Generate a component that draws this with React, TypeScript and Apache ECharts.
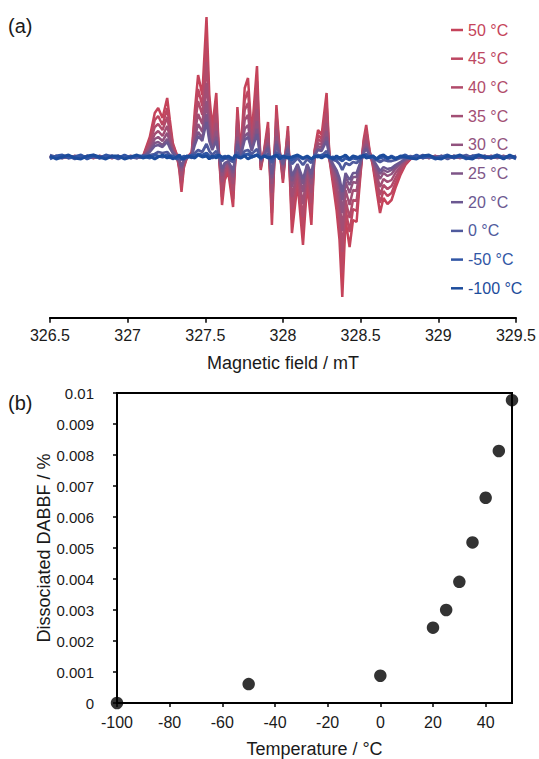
import React, { useEffect, useRef } from "react";
import * as echarts from "echarts";

// ---------- Panel (a): EPR spectra ----------
const FIELD_LEFT = [326.5, 326.54, 326.58, 326.62, 326.66, 326.7, 326.74, 326.78, 326.82, 326.86, 326.9, 326.94, 326.98, 327.02, 327.06];
const FIELD_PEAKS = [
  327.098, 327.143, 327.175, 327.197, 327.225, 327.255, 327.272, 327.291, 327.317, 327.333,
  327.347, 327.362, 327.381, 327.413, 327.433, 327.454, 327.481, 327.508, 327.526, 327.545,
  327.571, 327.587, 327.608, 327.625, 327.648, 327.679, 327.693, 327.707, 327.728, 327.754,
  327.775, 327.799, 327.833, 327.857, 327.879, 327.904, 327.929, 327.958, 327.979, 328.0,
  328.032, 328.058, 328.094, 328.129, 328.156, 328.183, 328.204, 328.226, 328.249, 328.281,
  328.3, 328.323, 328.345, 328.364, 328.382, 328.403, 328.429, 328.451, 328.474, 328.499,
  328.519, 328.536, 328.557, 328.578, 328.602, 328.625, 328.647, 328.673, 328.699, 328.724,
  328.756, 328.788, 328.821,
];
const FIELD_RIGHT = [328.86, 328.9, 328.94, 328.98, 329.02, 329.06, 329.1, 329.14, 329.18, 329.22, 329.26, 329.3, 329.34, 329.38, 329.42, 329.46, 329.5];
const FIELD_MT = [...FIELD_LEFT, ...FIELD_PEAKS, ...FIELD_RIGHT];

const SPECTRA_LABELS = ["50 °C", "45 °C", "40 °C", "35 °C", "30 °C", "25 °C", "20 °C", "0 °C", "-50 °C", "-100 °C"];

const I_50 = [
  1, -1, 1, 0, -1, 1, 0, -1, 1, 0, -1, 1, -1, 0, 1,
  0, 20, 44, 49, 39, 59, 37, 14, 2, -13,
  -35, -11, -1, 5, 47, 82, 62, 140, 62, 29,
  64, 7, -48, -23, -15, -50, -3, 50, 4, 69,
  79, 22, 91, -13, 7, 35, -68, 52, 7, -26,
  31, -76, -26, -88, -26, -68, 7, 27, 22, 64,
  -3, -28, -53, -83, -140, -63, -90, -63, -65, -18,
  17, 32, 7, -8, -33, -56, -41, -47, -43, -31,
  -18, -8, -2,
  0, 1, -1, 1, 0, -1, 1, 0, -1, 1, 0, -1, 1, 0, -1, 1, 0,
];
const I_45 = [
  0, 1, -1, 1, 0, -1, 1, -1, 0, 1, -1, 0, 1, -1, 0,
  0, 17, 37, 41, 32, 49, 31, 12, 2, -11,
  -29, -9, -1, 4, 39, 68, 51, 116, 51, 24,
  53, 6, -40, -19, -12, -42, -2, 42, 3, 57,
  66, 18, 76, -11, 6, 29, -56, 43, 6, -22,
  26, -63, -22, -73, -22, -56, 6, 22, 18, 53,
  -2, -23, -44, -69, -116, -52, -75, -52, -54, -15,
  14, 27, 6, -7, -27, -46, -34, -39, -36, -26,
  -15, -7, -2,
  1, -1, 0, 1, -1, 1, 0, -1, 1, -1, 0, 1, -1, 0, 1, -1, 0,
];
const I_40 = [
  -1, 0, 1, -1, 1, 0, -1, 1, 0, -1, 1, -1, 0, 1, 0,
  0, 14, 30, 33, 27, 40, 25, 10, 1, -9,
  -24, -7, -1, 3, 32, 56, 42, 95, 42, 20,
  44, 5, -33, -16, -10, -34, -2, 34, 3, 47,
  54, 15, 62, -9, 5, 24, -46, 35, 5, -18,
  21, -52, -18, -60, -18, -46, 5, 18, 15, 44,
  -2, -19, -36, -56, -95, -43, -61, -43, -44, -12,
  12, 22, 5, -5, -22, -38, -28, -32, -29, -21,
  -12, -5, -1,
  -1, 0, 1, -1, 0, 1, -1, 1, 0, -1, 1, 0, -1, 1, -1, 0, 1,
];
const I_35 = [
  1, 0, -1, 0, 1, -1, 0, 1, -1, 1, 0, -1, 1, 0, -1,
  0, 11, 23, 26, 21, 31, 20, 7, 1, -7,
  -19, -6, -1, 3, 25, 43, 33, 74, 33, 15,
  34, 4, -25, -12, -8, -27, -2, 27, 2, 37,
  42, 12, 48, -7, 4, 19, -36, 28, 4, -14,
  16, -40, -14, -47, -14, -36, 4, 14, 12, 34,
  -2, -15, -28, -44, -74, -33, -48, -33, -34, -10,
  9, 17, 4, -4, -17, -30, -22, -25, -23, -16,
  -10, -4, -1,
  0, -1, 1, 0, 1, -1, 0, 1, -1, 0, 1, -1, 1, 0, -1, 1, -1,
];
const I_30 = [
  0, -1, 1, 1, -1, 0, 1, -1, 1, 0, -1, 1, 0, -1, 1,
  0, 8, 18, 20, 16, 24, 15, 6, 1, -5,
  -14, -4, 0, 2, 19, 33, 25, 56, 25, 12,
  26, 3, -19, -9, -6, -20, -1, 20, 2, 28,
  32, 9, 36, -5, 3, 14, -27, 21, 3, -10,
  12, -30, -10, -35, -10, -27, 3, 11, 9, 26,
  -1, -11, -21, -33, -56, -25, -36, -25, -26, -7,
  7, 13, 3, -3, -13, -22, -16, -19, -17, -12,
  -7, -3, -1,
  1, 0, -1, 1, -1, 0, 1, -1, 0, 1, -1, 1, 0, -1, 1, 0, -1,
];
const I_25 = [
  -1, 1, 0, -1, 1, 1, -1, 0, 1, -1, 0, 1, -1, 1, 0,
  0, 6, 14, 15, 12, 18, 11, 4, 1, -4,
  -11, -3, 0, 2, 15, 25, 19, 43, 19, 9,
  20, 2, -15, -7, -5, -16, -1, 16, 1, 21,
  24, 7, 28, -4, 2, 11, -21, 16, 2, -8,
  10, -24, -8, -27, -8, -21, 2, 8, 7, 20,
  -1, -9, -16, -26, -43, -20, -28, -20, -20, -6,
  5, 10, 2, -2, -10, -17, -13, -15, -13, -10,
  -6, -2, -1,
  -1, 1, 0, -1, 1, 0, -1, 1, 1, -1, 0, 1, -1, 0, 1, -1, 1,
];
const I_20 = [
  1, -1, 0, 1, 0, -1, 1, 0, -1, 1, 1, -1, 0, 1, -1,
  0, 5, 11, 12, 10, 15, 9, 4, 1, -3,
  -9, -3, 0, 1, 12, 21, 16, 35, 16, 7,
  16, 2, -12, -6, -4, -13, -1, 13, 1, 17,
  20, 6, 23, -3, 2, 9, -17, 13, 2, -7,
  8, -19, -7, -22, -7, -17, 2, 7, 6, 16,
  -1, -7, -13, -21, -35, -16, -23, -16, -16, -5,
  4, 8, 2, -2, -8, -14, -10, -12, -11, -8,
  -5, -2, -1,
  0, 1, -1, 0, 1, -1, 1, 0, -1, 1, 0, -1, 1, -1, 0, 1, 0,
];
const I_0 = [
  2, 0, -1, 1, -2, 1, 0, 2, -1, 0, 1, -2, 1, 0, -1,
  1, 2, 3, 5, 4, 5, 2, 1, -1, -1,
  -3, 0, 1, -1, 4, 7, 5, 13, 6, 2,
  6, 1, -4, -1, -2, -5, 1, 5, -1, 6,
  7, 3, 8, -2, 1, 3, -6, 5, 0, -2,
  3, -7, -1, -8, -2, -6, 2, 2, 1, 6,
  0, -3, -4, -7, -13, -6, -8, -5, -6, -2,
  2, 3, 0, -1, -3, -5, -3, -4, -4, -3,
  -1, -1, 1,
  -1, 2, 0, -1, 1, -2, 1, 0, 2, -1, 0, 1, -1, 2, 0, -1, 1,
];
const I_M50 = [
  -2, 1, 2, -1, 0, 2, -2, 1, -1, 2, 0, -1, 2, -1, 1,
  1, -1, 2, 1, 0, 2, -1, 1, -2, 0,
  -2, 1, -1, 2, 1, 3, 2, 4, 1, -1,
  2, 0, -2, 1, -1, -2, 1, 2, -1, 2,
  3, 0, 2, -1, 1, 0, -2, 1, 2, -1,
  0, -3, 1, -2, 0, -2, 1, 0, 2, 1,
  -1, 0, -2, -2, -4, -1, -3, -1, -2, 1,
  0, 2, -1, 1, -2, -1, 0, -2, 1, -1,
  0, 2, -1,
  2, -1, 1, -2, 0, 2, -1, 1, -2, 1, 2, -1, 0, 2, -1, 1, -2,
];
const I_M100 = [
  1, -2, 0, 2, -1, -2, 1, 2, 0, -2, 1, 1, -2, 0, 2,
  -1, 1, -2, 0, 2, -1, 1, -2, 0, 2,
  -1, -2, 1, 0, -1, 2, 0, 1, -2, 1,
  -1, 2, 0, -1, 1, -2, 2, 0, -1, 1,
  -2, 0, 2, -1, 1, -1, 0, 2, -2, 1,
  -1, 0, 2, -1, 1, -2, 0, 1, -1, 2,
  0, -2, 1, -1, 0, 2, -2, 1, 0, -1,
  2, -1, 0, 1, -2, 1, 2, -1, 0, -2,
  1, 0, -1,
  -2, 1, 2, -1, -2, 1, 0, 2, -1, -2, 2, 0, -1, 1, -2, 2, -1,
];
const SPECTRA = [I_50, I_45, I_40, I_35, I_30, I_25, I_20, I_0, I_M50, I_M100];
const LINE_COLORS = ["#c5435a", "#bd4762", "#b14b6b", "#a24e74", "#91527e", "#7e5587", "#6b5891", "#4f5a9d", "#3156a5", "#1c4c9c"];
const LINE_WIDTHS = [2.5, 2.5, 2.5, 2.5, 2.5, 2.5, 2.5, 2.8, 3, 3];

// ---------- Panel (b): dissociated fraction ----------
const TEMP_B = [-100, -50, 0, 20, 25, 30, 35, 40, 45, 50];
const DISSOC = [0, 0.00061, 0.00088, 0.00243, 0.003, 0.00391, 0.00518, 0.00662, 0.00813, 0.00977];

const FONT = "'Liberation Sans', Arial, Helvetica, sans-serif";

export default function App() {
  const ref = useRef<HTMLDivElement>(null);
  useEffect(() => {
    if (!ref.current) return;
    const chart = echarts.init(ref.current, undefined, { renderer: "svg" });
    const lineSeries = SPECTRA.map((arr, k) => ({
      name: SPECTRA_LABELS[k],
      type: "line",
      xAxisIndex: 0,
      yAxisIndex: 0,
      showSymbol: false,
      symbol: "none",
      silent: true,
      color: LINE_COLORS[k],
      lineStyle: { width: LINE_WIDTHS[k], color: LINE_COLORS[k] },
      itemStyle: { color: LINE_COLORS[k] },
      data: FIELD_MT.map((f, i) => [f, arr[i]]),
    }));
    chart.setOption({
      animation: false,
      textStyle: { fontFamily: FONT },
      grid: [
        { left: 49.9, top: 10, width: 467.5, height: 307.7, show: false },
        { left: 117, top: 393, width: 395, height: 310, show: true, borderColor: "#000", borderWidth: 2, backgroundColor: "transparent" },
      ],
      legend: {
        orient: "vertical",
        left: 451,
        top: 22,
        padding: 0,
        itemWidth: 12,
        itemHeight: 2.5,
        itemGap: 12.7,
        icon: "rect",
        selectedMode: false,
        textStyle: { fontSize: 16, lineHeight: 16, fontFamily: FONT },
        data: SPECTRA_LABELS.map((n, k) => ({ name: n, textStyle: { color: LINE_COLORS[k] } })),
      },
      xAxis: [
        {
          type: "value",
          gridIndex: 0,
          min: 326.5,
          max: 329.5,
          interval: 0.5,
          name: "Magnetic field / mT",
          nameLocation: "middle",
          nameGap: 36,
          nameMoveOverlap: false,
          nameTextStyle: { fontSize: 18, color: "#1a1a1a", fontFamily: FONT },
          axisLine: { show: true, onZero: false, lineStyle: { color: "#000", width: 2 } },
          axisTick: { show: true, length: 5, lineStyle: { color: "#000", width: 1.5 } },
          axisLabel: { fontSize: 16, color: "#1a1a1a", margin: 10, fontFamily: FONT },
          splitLine: { show: false },
        },
        {
          type: "value",
          gridIndex: 1,
          min: -100,
          max: 50,
          interval: 20,
          name: "Temperature / °C",
          nameLocation: "middle",
          nameGap: 37,
          nameMoveOverlap: false,
          nameTextStyle: { fontSize: 18, color: "#1a1a1a", fontFamily: FONT },
          axisLine: { show: true, onZero: false, lineStyle: { color: "#000", width: 2 } },
          axisTick: { show: true, length: 4, lineStyle: { color: "#000", width: 1.5 } },
          axisLabel: { fontSize: 16, color: "#1a1a1a", margin: 11, showMaxLabel: false, fontFamily: FONT },
          splitLine: { show: false },
        },
      ],
      yAxis: [
        { type: "value", gridIndex: 0, min: -160.7, max: 147, show: false },
        {
          type: "value",
          gridIndex: 1,
          min: 0,
          max: 0.01,
          interval: 0.001,
          name: "Dissociated DABBF / %",
          nameLocation: "middle",
          nameGap: 64,
          nameMoveOverlap: false,
          nameRotate: 90,
          nameTextStyle: { fontSize: 18, color: "#1a1a1a", fontFamily: FONT },
          axisLine: { show: true, onZero: false, lineStyle: { color: "#000", width: 2 } },
          axisTick: { show: true, length: 4, lineStyle: { color: "#000", width: 1.5 } },
          axisLabel: {
            fontSize: 15,
            color: "#1a1a1a",
            margin: 23,
            fontFamily: FONT,
            formatter: (v: number) => (v === 0 ? "0" : String(parseFloat(v.toFixed(3)))),
          },
          splitLine: { show: false },
        },
      ],
      graphic: [
        { type: "text", left: 8, top: 16, style: { text: "(a)", fontSize: 20, fill: "#1a1a1a", fontFamily: FONT } },
        { type: "text", left: 8, top: 393, style: { text: "(b)", fontSize: 20, fill: "#1a1a1a", fontFamily: FONT } },
      ],
      series: [
        ...lineSeries,
        {
          name: "Dissociated",
          type: "scatter",
          xAxisIndex: 1,
          yAxisIndex: 1,
          symbolSize: 12.5,
          clip: false,
          z: 5,
          itemStyle: { color: "#000" },
          data: TEMP_B.map((t, i) => [t, DISSOC[i]]),
        },
      ],
    });
    return () => chart.dispose();
  }, []);
  return <div ref={ref} style={{ position: "absolute", left: 0, top: 0, width: 539, height: 759 }} />;
}
